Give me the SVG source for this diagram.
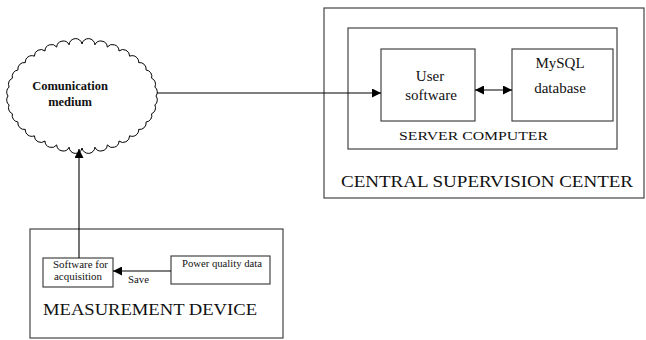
<svg xmlns="http://www.w3.org/2000/svg" width="646" height="340" viewBox="0 0 646 340" font-family="'Liberation Serif', 'Times New Roman', serif">
  <style>
    .box { fill: #fff; stroke: #444; stroke-width: 1.2; }
    .line { fill: none; stroke: #000; stroke-width: 1.1; }
    text { font-family: "Liberation Serif", "Times New Roman", serif; fill: #111; }
    .lbl { font-size: 15px; text-anchor: middle; }
    .small { font-size: 10.5px; }
    .big { font-size: 16px; }
  </style>
  <defs>
    <marker id="arrow" viewBox="0 0 10 10" refX="10" refY="5" markerWidth="10" markerHeight="9" markerUnits="userSpaceOnUse" orient="auto-start-reverse">
      <path d="M0,0 L10,5 L0,10 z" fill="#000"/>
    </marker>
  </defs>
  <rect width="646" height="340" fill="#fff"/>

  <!-- Central supervision center -->
  <g id="central-center">
    <rect class="box" x="324" y="8" width="320" height="190"/>
    <text class="big" x="341" y="187" textLength="292" lengthAdjust="spacingAndGlyphs">CENTRAL SUPERVISION CENTER</text>
  </g>

  <!-- Server computer -->
  <g id="server-computer">
    <rect class="box" x="348" y="28" width="269" height="121"/>
    <text x="399" y="140" font-size="13" textLength="149" lengthAdjust="spacingAndGlyphs">SERVER COMPUTER</text>
  </g>

  <g id="user-software">
    <rect class="box" x="381" y="49" width="94" height="72"/>
    <text class="lbl" x="430" y="81">User</text>
    <text class="lbl" x="431" y="100">software</text>
  </g>

  <g id="mysql-database">
    <rect class="box" x="512" y="49" width="101" height="72"/>
    <text class="lbl" x="560" y="68">MySQL</text>
    <text class="lbl" x="560" y="93">database</text>
  </g>

  <!-- Communication medium cloud -->
  <g id="communication-medium">
    <path fill="#fff" stroke="#000" stroke-width="1" d="M156,96
      A6.5,6.5 0 0 1 154.9,105 A6.5,6.5 0 0 1 151.6,113.8 A6.5,6.5 0 0 1 146.1,122 A6.5,6.5 0 0 1 138.7,129.4
      A6.5,6.5 0 0 1 129.6,135.8 A6.5,6.5 0 0 1 119,141 A6.5,6.5 0 0 1 107.3,144.9 A6.5,6.5 0 0 1 94.9,147.2
      A6.5,6.5 0 0 1 82,148 A6.5,6.5 0 0 1 69.1,147.2 A6.5,6.5 0 0 1 56.7,144.9 A6.5,6.5 0 0 1 45,141
      A6.5,6.5 0 0 1 34.4,135.8 A6.5,6.5 0 0 1 25.3,129.4 A6.5,6.5 0 0 1 17.9,122 A6.5,6.5 0 0 1 12.4,113.8
      A6.5,6.5 0 0 1 9.1,105 A6.5,6.5 0 0 1 8,96 A6.5,6.5 0 0 1 9.1,87 A6.5,6.5 0 0 1 12.4,78.2
      A6.5,6.5 0 0 1 17.9,70 A6.5,6.5 0 0 1 25.3,62.6 A6.5,6.5 0 0 1 34.4,56.2 A6.5,6.5 0 0 1 45,51
      A6.5,6.5 0 0 1 56.7,47.1 A6.5,6.5 0 0 1 69.1,44.8 A6.5,6.5 0 0 1 82,44 A6.5,6.5 0 0 1 94.9,44.8
      A6.5,6.5 0 0 1 107.3,47.1 A6.5,6.5 0 0 1 119,51 A6.5,6.5 0 0 1 129.6,56.2 A6.5,6.5 0 0 1 138.7,62.6
      A6.5,6.5 0 0 1 146.1,70 A6.5,6.5 0 0 1 151.6,78.2 A6.5,6.5 0 0 1 154.9,87 A6.5,6.5 0 0 1 156,96 Z"/>
    <text x="70" y="90" font-size="12.5" font-weight="bold" text-anchor="middle">Comunication</text>
    <text x="70" y="106" font-size="12.5" font-weight="bold" text-anchor="middle">medium</text>
  </g>

  <!-- Measurement device -->
  <g id="measurement-device">
    <rect class="box" x="30" y="229" width="253" height="109"/>
    <text class="big" x="43" y="315" textLength="214" lengthAdjust="spacingAndGlyphs">MEASUREMENT DEVICE</text>
  </g>

  <g id="software-acquisition">
    <rect class="box" x="43" y="258" width="70" height="29"/>
    <text class="small" x="53" y="268" textLength="55" lengthAdjust="spacingAndGlyphs">Software for</text>
    <text class="small" x="54" y="280" textLength="48" lengthAdjust="spacingAndGlyphs">acquisition</text>
  </g>

  <g id="power-quality-data">
    <rect class="box" x="171" y="256" width="99" height="28"/>
    <text class="small" x="182" y="267" textLength="80" lengthAdjust="spacingAndGlyphs">Power quality data</text>
  </g>

  <!-- Connectors -->
  <g id="connectors">
    <line class="line" x1="157" y1="93" x2="381" y2="93" marker-end="url(#arrow)"/>
    <line class="line" x1="475" y1="90" x2="512" y2="90" marker-start="url(#arrow)" marker-end="url(#arrow)"/>
    <line class="line" x1="79" y1="258" x2="79" y2="149" marker-end="url(#arrow)"/>
    <line class="line" x1="171" y1="271" x2="113" y2="271" marker-end="url(#arrow)"/>
    <text class="small" x="128" y="283" textLength="21" lengthAdjust="spacingAndGlyphs">Save</text>
  </g>
</svg>
